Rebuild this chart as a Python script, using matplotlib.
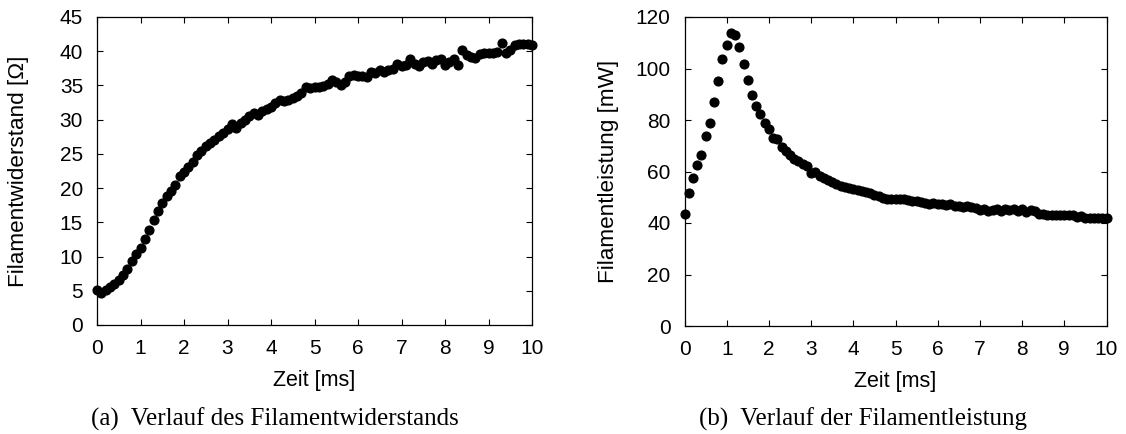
import numpy as np
import matplotlib
matplotlib.use("Agg")
import matplotlib.pyplot as plt

# time axis [ms]
zeit = [round(0.1 * i, 1) for i in range(101)]

# filament resistance [Ohm]
widerstand = [
    5.1, 4.7, 5.1, 5.5, 6.0, 6.6, 7.3, 8.2, 9.4, 10.4,
    11.3, 12.6, 13.9, 15.3, 16.6, 17.8, 18.8, 19.6, 20.4, 21.7,
    22.3, 23.1, 23.8, 24.9, 25.4, 26.1, 26.6, 27.1, 27.6, 28.1,
    28.7, 29.3, 28.8, 29.5, 30.0, 30.5, 31.0, 30.7, 31.2, 31.6,
    31.9, 32.4, 32.9, 32.8, 32.9, 33.2, 33.5, 33.9, 34.8, 34.6,
    34.7, 34.7, 34.9, 35.2, 35.8, 35.5, 35.1, 35.5, 36.4, 36.5,
    36.4, 36.4, 36.3, 36.9, 36.8, 37.2, 36.9, 37.3, 37.4, 38.2,
    37.8, 38.0, 38.8, 38.2, 37.8, 38.4, 38.6, 38.2, 38.7, 38.9,
    38.0, 38.4, 38.8, 38.0, 40.2, 39.5, 39.2, 39.0, 39.6, 39.7,
    39.8, 39.8, 39.9, 41.2, 39.7, 40.2, 40.9, 41.0, 41.0, 41.0,
    40.9,
]

# filament power [mW]
leistung = [
    43.5, 51.6, 57.4, 62.4, 66.4, 73.7, 78.7, 86.8, 95.1, 103.7,
    109.0, 113.7, 113.0, 108.2, 101.6, 95.4, 89.6, 85.4, 82.3, 78.7,
    76.5, 72.9, 72.5, 69.4, 68.1, 66.4, 65.0, 63.9, 63.0, 62.0,
    59.5, 59.8, 58.3, 57.5, 56.8, 56.0, 55.2, 54.5, 54.0, 53.6,
    53.2, 52.8, 52.5, 52.0, 51.5, 50.9, 50.3, 49.8, 49.5, 49.4,
    49.3, 49.4, 49.4, 48.9, 48.5, 48.4, 48.3, 47.8, 47.5, 47.6,
    47.2, 47.5, 46.8, 47.2, 46.6, 46.7, 46.4, 46.6, 46.2, 45.8,
    45.2, 45.6, 44.8, 45.0, 45.3, 44.7, 45.4, 44.9, 45.3, 44.6,
    45.3, 44.3, 45.0, 44.6, 43.6, 43.4, 43.2, 43.1, 43.2, 43.2,
    43.2, 43.1, 43.2, 42.4, 42.9, 42.1, 42.0, 42.0, 41.9, 42.0,
    42.0,
]

x_ticks = list(range(0, 11))
y_ticks_a = list(range(0, 46, 5))
y_ticks_b = list(range(0, 121, 20))

plt.rcParams['font.family'] = ['Liberation Sans', 'DejaVu Sans']

fig = plt.figure(figsize=(11.26, 4.34), dpi=100)
ax1 = fig.add_axes([97 / 1126, 109 / 434, 435 / 1126, 308 / 434])
ax2 = fig.add_axes([684.5 / 1126, 108 / 434, 422 / 1126, 309 / 434])

fs = 15


def style(ax, yticks, ylim, ylabel, ylabelpad):
    ax.set_xlim(0, 10)
    ax.set_ylim(*ylim)
    ax.set_xticks(x_ticks)
    ax.set_yticks(yticks)
    ax.tick_params(direction='in', length=4, width=0.8, top=True, right=True,
                   labelsize=fs)
    ax.tick_params(axis='x', pad=10)
    ax.tick_params(axis='y', pad=10)
    for s in ax.spines.values():
        s.set_linewidth(0.9)
    ax.set_xlabel('Zeit [ms]', fontsize=15.5, labelpad=9)
    ax.set_ylabel(ylabel, fontsize=16.2, labelpad=ylabelpad)


ax1.plot(zeit, widerstand, 'o', color='black', markersize=6.3, clip_on=False)
style(ax1, y_ticks_a, (0, 45), 'Filamentwiderstand [Ω]', 22)

ax2.plot(zeit, leistung, 'o', color='black', markersize=6.3, clip_on=False)
style(ax2, y_ticks_b, (0, 120), 'Filamentleistung [mW]', 12)

fig.text(275 / 1126, 1 - 419 / 434, '(a)  Verlauf des Filamentwiderstands',
         ha='center', va='center', fontsize=18, family='Liberation Serif')
fig.text(863 / 1126, 1 - 419 / 434, '(b)  Verlauf der Filamentleistung',
         ha='center', va='center', fontsize=18, family='Liberation Serif')

fig.savefig('out.png', dpi=100)
